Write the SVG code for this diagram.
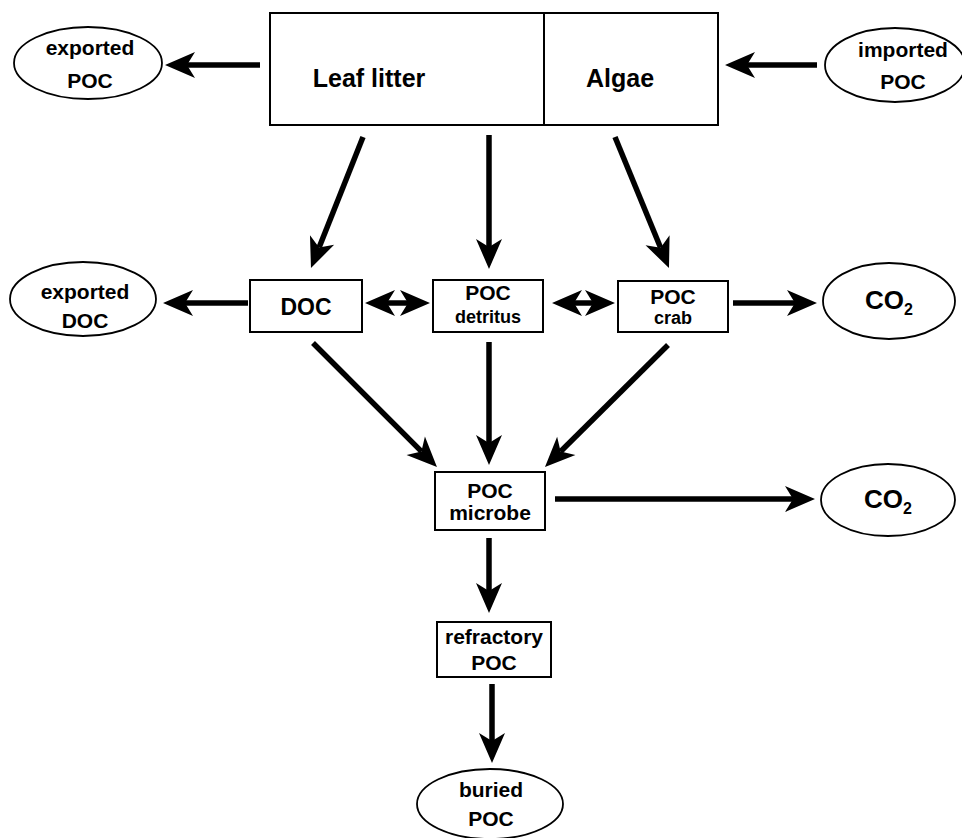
<svg xmlns="http://www.w3.org/2000/svg" width="962" height="838" viewBox="0 0 962 838">
<style>
.box{fill:#fff;stroke:#000;stroke-width:2}
.ell{fill:#fff;stroke:#000;stroke-width:1.8}
.t{font-family:"Liberation Sans",Arial,Helvetica,sans-serif;font-weight:bold;fill:#000;text-anchor:middle;font-size:21px}
.big{font-size:25px}
.sm{font-size:18px}
.doc{font-size:23px}
.co{font-size:26px}
.c{stroke:#000;stroke-width:5.5;fill:none;marker-end:url(#ah)}
.d{marker-start:url(#ah)}
</style>
<defs>
<marker id="ah" markerUnits="userSpaceOnUse" markerWidth="40" markerHeight="40" refX="8" refY="0" orient="auto-start-reverse" style="overflow:visible">
<path d="M0,-13 L30,0 L0,13 L8,0 Z" fill="#000"/>
</marker>
</defs>
<rect width="962" height="838" fill="#fff"/>

<g id="source">
<rect class="box" x="270" y="13" width="448" height="112"/>
<line x1="544" y1="13" x2="544" y2="125" stroke="#000" stroke-width="2"/>
<text class="t big" x="369" y="87">Leaf litter</text>
<text class="t big" x="620" y="87">Algae</text>
</g>
<g id="exported-poc">
<ellipse class="ell" cx="88" cy="63" rx="74" ry="36"/>
<text class="t" x="90" y="55">exported</text>
<text class="t" x="90" y="88">POC</text>
</g>
<g id="imported-poc">
<ellipse class="ell" cx="895" cy="65" rx="70" ry="37"/>
<text class="t" x="903" y="57">imported</text>
<text class="t" x="903" y="89">POC</text>
</g>
<g id="exported-doc">
<ellipse class="ell" cx="83" cy="299" rx="73" ry="37"/>
<text class="t" x="85" y="299">exported</text>
<text class="t" x="85" y="328">DOC</text>
</g>
<g id="doc">
<rect class="box" x="250" y="280" width="112" height="52"/>
<text class="t doc" x="306" y="315">DOC</text>
</g>
<g id="poc-detritus">
<rect class="box" x="433" y="280" width="110" height="52"/>
<text class="t" x="488" y="300">POC</text>
<text class="t sm" x="488" y="323">detritus</text>
</g>
<g id="poc-crab">
<rect class="box" x="618" y="281" width="110" height="51"/>
<text class="t" x="673" y="304">POC</text>
<text class="t sm" x="673" y="324">crab</text>
</g>
<g id="co2-top">
<ellipse class="ell" cx="889" cy="301" rx="66" ry="38"/>
<text class="t co" x="889" y="309">CO<tspan font-size="16" dy="6">2</tspan></text>
</g>
<g id="poc-microbe">
<rect class="box" x="435" y="472" width="110" height="58"/>
<text class="t" x="490" y="498">POC</text>
<text class="t" x="490" y="520">microbe</text>
</g>
<g id="co2-bottom">
<ellipse class="ell" cx="888" cy="500" rx="67" ry="36"/>
<text class="t co" x="888" y="508">CO<tspan font-size="16" dy="6">2</tspan></text>
</g>
<g id="refractory-poc">
<rect class="box" x="437" y="622" width="114" height="55"/>
<text class="t" x="494" y="644">refractory</text>
<text class="t" x="494" y="670">POC</text>
</g>
<g id="buried-poc">
<ellipse class="ell" cx="490" cy="804" rx="73" ry="35"/>
<text class="t" x="491" y="797">buried</text>
<text class="t" x="491" y="826">POC</text>
</g>

<g id="connectors">
<line class="c" x1="260" y1="65" x2="187" y2="65"/>
<line class="c" x1="817" y1="65" x2="747" y2="65"/>
<line class="c" x1="363" y1="137" x2="319.1" y2="247.5"/>
<line class="c" x1="489" y1="135" x2="489" y2="247"/>
<line class="c" x1="615" y1="137" x2="660.6" y2="247.7"/>
<line class="c" x1="248" y1="303" x2="185" y2="303"/>
<line class="c d" x1="387" y1="303" x2="408" y2="303"/>
<line class="c d" x1="574" y1="303" x2="593" y2="303"/>
<line class="c" x1="733" y1="303" x2="795" y2="303"/>
<line class="c" x1="313" y1="343" x2="421.4" y2="451.4"/>
<line class="c" x1="489" y1="342" x2="489" y2="443"/>
<line class="c" x1="668" y1="345" x2="560.6" y2="451.5"/>
<line class="c" x1="555" y1="499" x2="793" y2="499"/>
<line class="c" x1="489" y1="538" x2="489" y2="591"/>
<line class="c" x1="492" y1="684" x2="492" y2="741"/>
</g>
</svg>
